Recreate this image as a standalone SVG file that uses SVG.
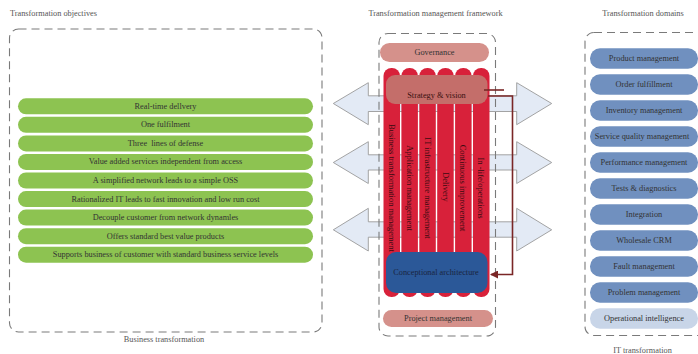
<svg xmlns="http://www.w3.org/2000/svg" width="698" height="354" viewBox="0 0 698 354">
<defs>
<style>
text{font-family:"Liberation Serif","Times New Roman",serif;font-size:8.3px;fill:#333;}
.lbl{fill:#555;}
.ctr{text-anchor:middle;dominant-baseline:central;}
.dash{fill:none;stroke:#7a7a7a;stroke-width:1.1;stroke-dasharray:8 5;}
.green{fill:#8dc351;}
.blue{fill:#7090bf;}
.lblue{fill:#c8d5e8;}
.pink{fill:#d5918b;}
.col{fill:#d8213a;}
.coltxt{font-size:8.5px;fill:#3b0b10;text-anchor:middle;dominant-baseline:central;}
.barr{fill:#e3eaf5;stroke:#9a9a9a;stroke-width:0.9;}
.brown{fill:none;stroke:#7a2626;stroke-width:1.6;}
</style>
<marker id="ah" markerWidth="8" markerHeight="8" refX="7" refY="4" orient="auto" markerUnits="userSpaceOnUse">
<path d="M0,0 L8,4 L0,8 Z" fill="#7a2626"/>
</marker>
</defs>
<rect width="698" height="354" fill="#fff"/>

<text class="lbl" x="10" y="16">Transformation objectives</text>
<text class="lbl" x="435.5" y="16" text-anchor="middle">Transformation management framework</text>
<text class="lbl" x="643" y="16" text-anchor="middle">Transformation domains</text>
<text class="lbl" x="164" y="342" text-anchor="middle">Business transformation</text>
<text class="lbl" x="642.5" y="353" text-anchor="middle">IT transformation</text>

<g id="connectors">
<polygon class="barr" points="333.3,103.5 368.3,82.7 368.3,95.8 516.7,95.8 516.7,82.7 551.7,103.5 516.7,124.7 516.7,111.5 368.3,111.5 368.3,124.7"/>
<polygon class="barr" points="333.3,162.5 368.3,141.7 368.3,154.8 516.7,154.8 516.7,141.7 551.7,162.5 516.7,183.5 516.7,170 368.3,170 368.3,183.5"/>
<polygon class="barr" points="333.3,229.8 368.3,208.3 368.3,221.8 516.7,221.8 516.7,208.3 551.7,229.8 516.7,251 516.7,237.2 368.3,237.2 368.3,251"/>
</g>

<g id="box-objectives"><rect class="dash" x="9.5" y="29" width="312.5" height="303" rx="9"/></g>
<g id="box-framework"><rect class="dash" x="379" y="33.5" width="116.5" height="302.5" rx="9"/></g>
<g id="box-domains"><rect class="dash" x="585" y="32.5" width="125" height="303" rx="9"/></g>

<g id="objectives">
<g id="obj1"><rect class="green" x="18" y="98.3" width="295" height="16" rx="8"/><text class="ctr" x="165.5" y="106.3">Real-time dellvery</text></g>
<g id="obj2"><rect class="green" x="18" y="116.85" width="295" height="16" rx="8"/><text class="ctr" x="165.5" y="124.85">One fulfilment</text></g>
<g id="obj3"><rect class="green" x="18" y="135.4" width="295" height="16" rx="8"/><text class="ctr" x="165.5" y="143.4" xml:space="preserve">Three  lines of defense</text></g>
<g id="obj4"><rect class="green" x="18" y="153.95" width="295" height="16" rx="8"/><text class="ctr" x="165.5" y="161.95">Value added services independent from access</text></g>
<g id="obj5"><rect class="green" x="18" y="172.5" width="295" height="16" rx="8"/><text class="ctr" x="165.5" y="180.5">A simplified network leads to a simple OSS</text></g>
<g id="obj6"><rect class="green" x="18" y="191.05" width="295" height="16" rx="8"/><text class="ctr" x="165.5" y="199.05">Rationalized IT leads to fast innovation and low run cost</text></g>
<g id="obj7"><rect class="green" x="18" y="209.6" width="295" height="16" rx="8"/><text class="ctr" x="165.5" y="217.6">Decouple customer from network dynamles</text></g>
<g id="obj8"><rect class="green" x="18" y="228.15" width="295" height="16" rx="8"/><text class="ctr" x="165.5" y="236.15">Offers standard best value products</text></g>
<g id="obj9"><rect class="green" x="18" y="246.7" width="295" height="16" rx="8"/><text class="ctr" x="165.5" y="254.7">Supports business of customer with standard business service levels</text></g>
</g>

<g id="governance"><rect class="pink" x="380" y="43" width="109" height="19" rx="9.5"/><text class="ctr" x="434.5" y="52.5">Governance</text></g>

<g id="columns">
<g id="col1"><rect class="col" x="383.5" y="68" width="16.5" height="229" rx="8"/><text class="coltxt" transform="translate(391.8,188) rotate(90)">Business transformation management</text></g>
<g id="col2"><rect class="col" x="401.4" y="68" width="16.5" height="229" rx="8"/><text class="coltxt" transform="translate(409.7,188) rotate(90)">Application management</text></g>
<g id="col3"><rect class="col" x="419.3" y="68" width="16.5" height="229" rx="8"/><text class="coltxt" transform="translate(427.6,188) rotate(90)">IT infrastructure management</text></g>
<g id="col4"><rect class="col" x="437.2" y="68" width="16.5" height="229" rx="8"/><text class="coltxt" transform="translate(445.5,187) rotate(90)">Delivery</text></g>
<g id="col5"><rect class="col" x="455.1" y="68" width="16.5" height="229" rx="8"/><text class="coltxt" transform="translate(463.4,188) rotate(90)">Continuous improvement</text></g>
<g id="col6"><rect class="col" x="473" y="68" width="16.5" height="229" rx="8"/><text class="coltxt" transform="translate(481.3,188) rotate(90)">In -life/operations</text></g>
</g>

<g id="strategy"><rect x="386" y="75" width="101.5" height="29" rx="9" fill="#c46e6a"/><text class="ctr" x="436.5" y="95" style="fill:#3a1010">Strategy &amp; vision</text></g>
<g id="conceptional"><rect x="386" y="252" width="101.5" height="41" rx="10" fill="#2b5898"/><text class="ctr" x="436" y="272.7" style="fill:#1a2540">Conceptional architecture</text></g>
<g id="project"><rect class="pink" x="383" y="310" width="110" height="17" rx="8.5"/><text class="ctr" x="438" y="318.5">Project management</text></g>

<g id="feedback">
<line class="brown" x1="484" y1="90" x2="504" y2="90"/>
<path class="brown" d="M488,96 H512.5 V274.5 H491" marker-end="url(#ah)"/>
</g>

<g id="domains">
<g id="d1"><rect class="blue" x="590" y="48.3" width="108" height="20.5" rx="10"/><text class="ctr" x="644" y="58.5">Product management</text></g>
<g id="d2"><rect class="blue" x="590" y="74.3" width="108" height="20.5" rx="10"/><text class="ctr" x="644" y="84.5">Order fulfillment</text></g>
<g id="d3"><rect class="blue" x="590" y="100.3" width="108" height="20.5" rx="10"/><text class="ctr" x="644" y="110.5">Inventory management</text></g>
<g id="d4"><rect class="blue" x="590" y="126.3" width="108" height="20.5" rx="10"/><text class="ctr" x="642" y="136.5">Service quality management</text></g>
<g id="d5"><rect class="blue" x="590" y="152.3" width="108" height="20.5" rx="10"/><text class="ctr" x="644" y="162.5">Performance management</text></g>
<g id="d6"><rect class="blue" x="590" y="178.3" width="108" height="20.5" rx="10"/><text class="ctr" x="644" y="188.5">Tests &amp; diagnostics</text></g>
<g id="d7"><rect class="blue" x="590" y="204.3" width="108" height="20.5" rx="10"/><text class="ctr" x="644" y="214.5">Integration</text></g>
<g id="d8"><rect class="blue" x="590" y="230.3" width="108" height="20.5" rx="10"/><text class="ctr" x="644" y="240.5">Wholesale CRM</text></g>
<g id="d9"><rect class="blue" x="590" y="256.3" width="108" height="20.5" rx="10"/><text class="ctr" x="644" y="266.5">Fault management</text></g>
<g id="d10"><rect class="blue" x="590" y="282.3" width="108" height="20.5" rx="10"/><text class="ctr" x="644" y="292.5">Problem management</text></g>
<g id="d11"><rect class="lblue" x="590" y="308.3" width="108" height="20.5" rx="10"/><text class="ctr" x="644" y="318.5">Operational intelligence</text></g>
</g>
</svg>
